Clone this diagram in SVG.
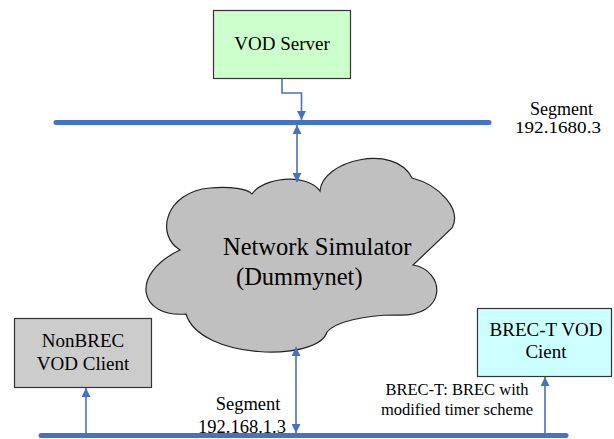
<svg xmlns="http://www.w3.org/2000/svg" width="614" height="439" viewBox="0 0 614 439">
  <defs>
    <marker id="arrow" viewBox="0 0 10 10" refX="10" refY="5" markerWidth="9" markerHeight="9" markerUnits="userSpaceOnUse" orient="auto-start-reverse">
      <path d="M0,0 L10,5 L0,10 Z" fill="#4472C4"/>
    </marker>
    <style>
      .seg { stroke: #4472C4; stroke-width: 5; stroke-linecap: round; fill: none; }
      .link { stroke: #4472C4; stroke-width: 1.6; fill: none; }
      .box { stroke: #333; stroke-width: 1.2; }
      .t { font-family: "Liberation Serif", "Times New Roman", serif; fill: #000; }
    </style>
  </defs>

  <!-- network segments -->
  <g id="segments">
    <line class="seg" x1="56" y1="122.5" x2="489" y2="122.5"/>
    <line class="seg" x1="41" y1="435.5" x2="566" y2="435.5"/>
  </g>

  <g id="cloud">
    <path d="M252,194 C262,178 306,172 320,191 C322,160 395,143 412,178 C440,185 462,210 452,228 L413,265 C445,270 450,318 395,315 C365,315 335,322 327,332 C318,362 200,360 186,314 C140,318 128,275 180,250 C155,235 165,192 210,188 C230,186 248,189 252,194 Z" fill="#C0C0C0" stroke="#222" stroke-width="1.2"/>
    <text class="t" x="223" y="255" font-size="24.5">Network Simulator</text>
    <text class="t" x="236" y="285" font-size="24.5">(Dummynet)</text>
  </g>

  <g id="vod-server">
    <rect class="box" x="213.5" y="10.5" width="137" height="68" fill="#CCFFCC"/>
    <text class="t" x="282" y="50" font-size="19" text-anchor="middle">VOD Server</text>
  </g>

  <g id="nonbrec-client">
    <rect class="box" x="14.5" y="318.5" width="137" height="69" fill="#CCCCCC"/>
    <text class="t" x="83" y="347" font-size="19" text-anchor="middle">NonBREC</text>
    <text class="t" x="83" y="370" font-size="19" text-anchor="middle">VOD Client</text>
  </g>

  <g id="brect-client">
    <rect class="box" x="477.5" y="308.5" width="134" height="68" fill="#CCFFFF"/>
    <text class="t" x="546" y="336" font-size="19" text-anchor="middle">BREC-T VOD</text>
    <text class="t" x="546" y="358" font-size="19" text-anchor="middle">Cient</text>
  </g>

  <g id="labels">
    <text class="t" x="561.5" y="115" font-size="18" text-anchor="middle">Segment</text>
    <text class="t" x="558" y="133" font-size="17" text-anchor="middle" textLength="86" lengthAdjust="spacingAndGlyphs">192.1680.3</text>
    <text class="t" x="248" y="410" font-size="18.5" text-anchor="middle">Segment</text>
    <text class="t" x="242" y="433" font-size="18.5" text-anchor="middle">192.168.1.3</text>
    <text class="t" x="457" y="395" font-size="16.5" text-anchor="middle">BREC-T: BREC with</text>
    <text class="t" x="457" y="415" font-size="16.5" text-anchor="middle">modified timer scheme</text>
  </g>

  <!-- connectors -->
  <g id="connectors">
    <path class="link" d="M282,78.5 V93 H301.5 V120" marker-end="url(#arrow)"/>
    <path class="link" d="M297,125 V182" marker-start="url(#arrow)" marker-end="url(#arrow)"/>
    <path class="link" d="M296,347 V433" marker-start="url(#arrow)" marker-end="url(#arrow)"/>
    <path class="link" d="M86,433 V388" marker-end="url(#arrow)"/>
    <path class="link" d="M545,433 V377" marker-end="url(#arrow)"/>
  </g>
</svg>
